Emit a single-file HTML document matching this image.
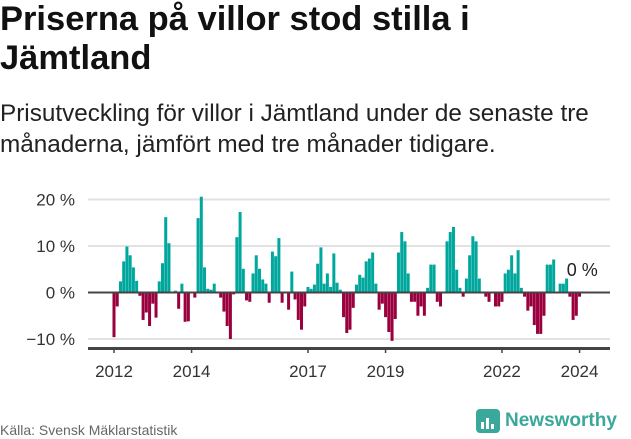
<!DOCTYPE html>
<html><head><meta charset="utf-8"><style>
body{margin:0;background:#fff;width:631px;height:439px;overflow:hidden;font-family:"Liberation Sans",sans-serif;}
h1{position:absolute;left:0;top:0;margin:0;font-size:34.5px;line-height:39px;font-weight:bold;color:#111;white-space:nowrap;}
p.sub{position:absolute;left:0;top:98px;margin:0;font-size:24.3px;line-height:31px;color:#222;white-space:nowrap;}
#src{position:absolute;left:0;top:422px;font-size:14px;color:#666;}
#logo{position:absolute;left:476px;top:409px;display:flex;align-items:center;}
</style></head><body>
<h1>Priserna på villor stod stilla i<br>Jämtland</h1>
<p class="sub">Prisutveckling för villor i Jämtland under de senaste tre<br>månaderna, jämfört med tre månader tidigare.</p>
<svg id="chart" width="631" height="439" style="position:absolute;left:0;top:0" xmlns="http://www.w3.org/2000/svg"></svg>
<div id="src">Källa: Svensk Mäklarstatistik</div>
<div id="logo">
<svg width="24" height="24"><rect x="0" y="0" width="24" height="24" rx="4" fill="#3aa89a"/><rect x="5" y="13" width="3" height="7" fill="#fff"/><rect x="10" y="9" width="3" height="11" fill="#fff"/><rect x="15" y="15" width="3" height="5" fill="#fff"/></svg>
<span style="margin-left:5px;font-size:19px;font-weight:bold;color:#3aa89a">Newsworthy</span></div>
<script>
const values=[-9.6,-3.0,2.4,6.7,9.9,8.0,5.4,2.5,-0.7,-5.9,-4.3,-7.2,-2.4,-5.4,2.4,6.3,16.2,10.6,0,0.4,-3.5,1.9,-6.3,-6.2,0,-1.1,16.0,20.6,5.4,0.8,0.6,1.9,0,-1.1,-4.1,-7.2,-10.0,-0.4,11.9,17.3,5.1,-1.7,-2.0,4.1,8.0,5.1,2.8,1.9,-2.2,8.8,7.8,11.7,-2.2,0,-3.7,4.5,-1.5,-5.9,-8.0,-3.0,1.2,0.8,1.7,6.2,9.7,1.9,4.1,1.2,8.4,2.1,0.6,-5.3,-8.7,-8.0,-3.3,1.7,3.8,3.2,6.7,7.3,8.6,1.9,-3.7,-2.4,-5.3,-8.5,-10.4,-5.7,8.6,13.0,11.0,4.1,-2.0,-2.0,-5.0,-3.0,-5.0,1.0,6.0,6.0,-2.0,-3.0,0,11.0,13.0,14.1,4.9,1.0,-0.9,3.0,8.0,12.1,11.0,3.0,0,-0.9,-2.0,0,-3.0,-3.0,-2.0,4.1,4.9,8.0,4.1,9.1,1.0,-0.9,-3.9,-3.0,-7.0,-8.9,-8.9,-5.0,6.0,6.0,7.1,0,1.9,1.9,3.0,-0.9,-5.9,-5.0,-0.9,0];
const yTicks=[20,10,0,-10];
const yTickLabels=["20 %","10 %","0 %","−10 %"];
const xTickYears=[2012,2014,2017,2019,2022,2024];
const lastLabel="0 %";
const NS="http://www.w3.org/2000/svg";
const svg=document.getElementById('chart');
const x0=114,mw=3.233,startYear=2012;
const xs=i=>x0+i*mw;
const ys=v=>292.5-v*4.65;
function el(t,a){const e=document.createElementNS(NS,t);for(const k in a)e.setAttribute(k,a[k]);svg.appendChild(e);return e;}
yTicks.forEach((t,k)=>{
 if(t!==0){const g=el('line',{x1:88,x2:610,y1:ys(t),y2:ys(t),stroke:'#e2e2e2','stroke-width':2});
 
 }
 const tx=el('text',{x:75,y:ys(t)+6,'text-anchor':'end','font-size':17,fill:'#333','font-family':'Liberation Sans, sans-serif'});
 tx.textContent=yTickLabels[k];
 
 
});
values.forEach((v,i)=>{
 const y=v>=0?ys(v):ys(0),h=Math.abs(ys(v)-ys(0));
 const r=el('rect',{x:xs(i)-1.5,y:y,width:3,height:h,fill:v>=0?'#00a79d':'#99003d'});
 
 
});
const z=el('line',{x1:88,x2:610,y1:ys(0),y2:ys(0),stroke:'#444','stroke-width':2});


const ax=el('line',{x1:88,x2:610,y1:348.5,y2:348.5,stroke:'#444','stroke-width':3});


xTickYears.forEach(yr=>{
 const x=xs((yr-startYear)*12);
 const tk=el('line',{x1:x,x2:x,y1:349,y2:353,stroke:'#444','stroke-width':1.5});
 
 
 const t=el('text',{x:x,y:377,'text-anchor':'middle','font-size':17,fill:'#333','font-family':'Liberation Sans, sans-serif'});
 t.textContent=yr;
 
 
});
const ll=el('text',{x:xs(values.length-1)-16,y:276,'font-size':18,fill:'#222','font-family':'Liberation Sans, sans-serif'});
ll.textContent=lastLabel;


</script>
</body></html>
